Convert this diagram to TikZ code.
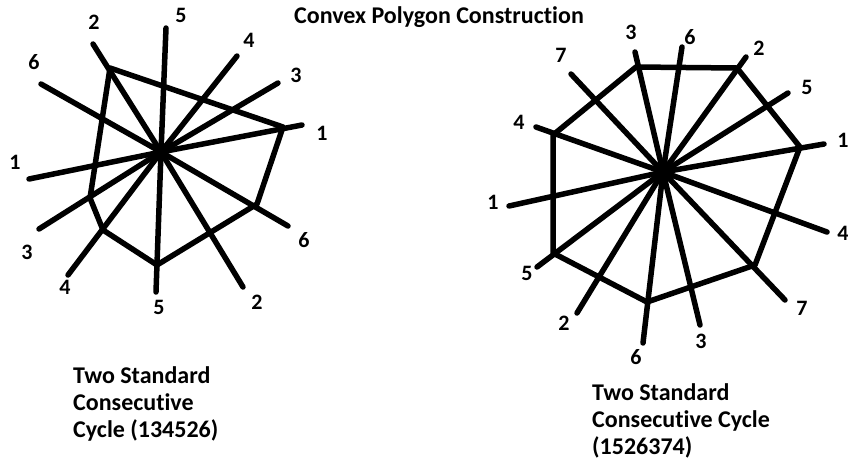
\documentclass[tikz,border=0pt]{standalone}
\usepackage{fontspec}
\setmainfont{Carlito}[Ligatures={NoCommon}]
\usetikzlibrary{positioning,calc}

\begin{document}
\begin{tikzpicture}[x=1pt, y=-1pt,
    spoke/.style={line width=5.5pt, line cap=round},
    rim/.style={line width=5.5pt, line join=round},
    num/.style={font=\bfseries\fontsize{22}{26}\selectfont, inner sep=0pt},
    caption/.style={font=\bfseries\fontsize{24}{27}\selectfont, align=left, inner sep=0pt, anchor=north west}]
    \useasboundingbox (0,0) rectangle (848,467);

    \node [font=\bfseries\fontsize{24}{28}\selectfont, anchor=base] (title) at (439,23) {Convex Polygon Construction};

    % left wheel, cycle 134526
    \coordinate (lc) at (161,152);
    \coordinate (l5a) at (166,28);   \node [num] (n5a) at (181,15) {5};
    \coordinate (l4a) at (237,56);   \node [num] (n4a) at (249,40) {4};
    \coordinate (l3a) at (278,83);   \node [num] (n3a) at (296,75) {3};
    \coordinate (l1a) at (302,125);  \node [num] (n1a) at (322,133) {1};
    \coordinate (l6a) at (288,226);  \node [num] (n6a) at (304,240) {6};
    \coordinate (l2a) at (243,287);  \node [num] (n2a) at (257,302) {2};
    \coordinate (l5b) at (156,292);  \node [num] (n5b) at (159,307) {5};
    \coordinate (l4b) at (68,275);   \node [num] (n4b) at (65,287) {4};
    \coordinate (l3b) at (39,229);   \node [num] (n3b) at (27,252) {3};
    \coordinate (l1b) at (29,179);   \node [num] (n1b) at (15,162) {1};
    \coordinate (l6b) at (41,84);    \node [num] (n6b) at (34,62) {6};
    \coordinate (l2b) at (93,44);    \node [num] (n2b) at (94,22) {2};

    \draw [spoke] (lc) -- (l5a);
    \draw [spoke] (lc) -- (l4a);
    \draw [spoke] (lc) -- (l3a);
    \draw [spoke] (lc) -- (l1a);
    \draw [spoke] (lc) -- (l6a);
    \draw [spoke] (lc) -- (l2a);
    \draw [spoke] (lc) -- (l5b);
    \draw [spoke] (lc) -- (l4b);
    \draw [spoke] (lc) -- (l3b);
    \draw [spoke] (lc) -- (l1b);
    \draw [spoke] (lc) -- (l6b);
    \draw [spoke] (lc) -- (l2b);

    \coordinate (lp1) at (110,68);
    \coordinate (lp2) at (283,127);
    \coordinate (lp3) at (257,204);
    \coordinate (lp4) at (157,265);
    \coordinate (lp5) at (103,230);
    \coordinate (lp6) at (90,198);
    \draw [rim] (lp1) -- (lp2) -- (lp3) -- (lp4) -- (lp5) -- (lp6) -- cycle;

    % right wheel, cycle 1526374
    \coordinate (rc) at (663,172);
    \coordinate (r3a) at (635,52);   \node [num] (m3a) at (631,32) {3};
    \coordinate (r6a) at (682,47);   \node [num] (m6a) at (690,37) {6};
    \coordinate (r2a) at (746,57);   \node [num] (m2a) at (759,48) {2};
    \coordinate (r5a) at (788,93);   \node [num] (m5a) at (807,87) {5};
    \coordinate (r1a) at (824,144);  \node [num] (m1a) at (843,140) {1};
    \coordinate (r4a) at (827,232);  \node [num] (m4a) at (843,233) {4};
    \coordinate (r7a) at (785,300);  \node [num] (m7a) at (802,308) {7};
    \coordinate (r3b) at (700,325);  \node [num] (m3b) at (701,341) {3};
    \coordinate (r6b) at (643,343);  \node [num] (m6b) at (636,357) {6};
    \coordinate (r2b) at (577,313);  \node [num] (m2b) at (564,323) {2};
    \coordinate (r5b) at (537,267);  \node [num] (m5b) at (527,273) {5};
    \coordinate (r1b) at (509,206);  \node [num] (m1b) at (493,202) {1};
    \coordinate (r4b) at (536,127);  \node [num] (m4b) at (519,122) {4};
    \coordinate (r7b) at (571,74);   \node [num] (m7b) at (561,55) {7};

    \draw [spoke] (rc) -- (r3a);
    \draw [spoke] (rc) -- (r6a);
    \draw [spoke] (rc) -- (r2a);
    \draw [spoke] (rc) -- (r5a);
    \draw [spoke] (rc) -- (r1a);
    \draw [spoke] (rc) -- (r4a);
    \draw [spoke] (rc) -- (r7a);
    \draw [spoke] (rc) -- (r3b);
    \draw [spoke] (rc) -- (r6b);
    \draw [spoke] (rc) -- (r2b);
    \draw [spoke] (rc) -- (r5b);
    \draw [spoke] (rc) -- (r1b);
    \draw [spoke] (rc) -- (r4b);
    \draw [spoke] (rc) -- (r7b);

    \coordinate (rp1) at (636,67);
    \coordinate (rp2) at (737,68);
    \coordinate (rp3) at (800,147);
    \coordinate (rp4) at (755,265);
    \coordinate (rp5) at (647,302);
    \coordinate (rp6) at (553,253);
    \coordinate (rp7) at (553,135);
    \draw [rim] (rp1) -- (rp2) -- (rp3) -- (rp4) -- (rp5) -- (rp6) -- (rp7) -- cycle;

    \node [caption] (capl) at (73,366) {Two Standard\\Consecutive\\Cycle (134526)};
    \node [caption] (capr) at (592,383) {Two Standard\\Consecutive Cycle\\(1526374)};
\end{tikzpicture}
\end{document}
